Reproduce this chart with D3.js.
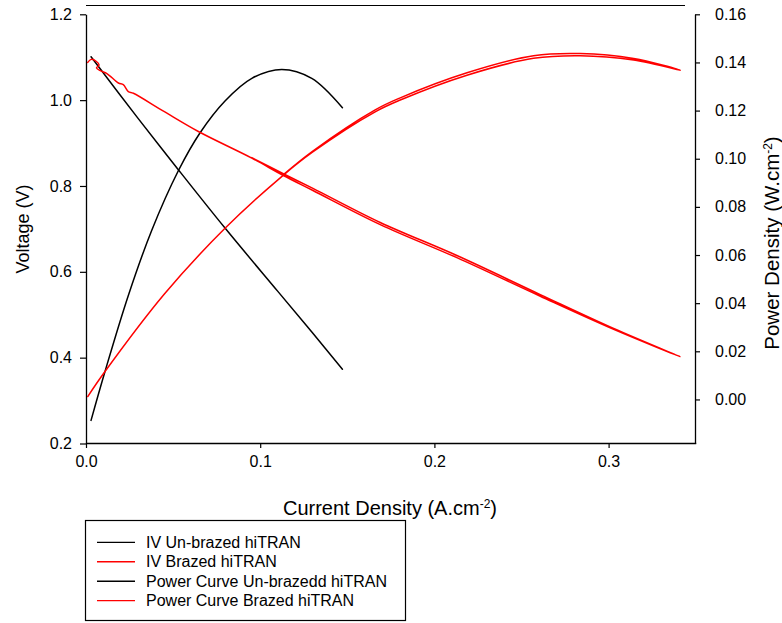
<!DOCTYPE html>
<html>
<head>
<meta charset="utf-8">
<script src="https://cdn.jsdelivr.net/npm/d3@7"></script>
<style>
  html, body { margin: 0; padding: 0; background: #fff; }
  svg { display: block; font-family: Arial, "Liberation Sans", sans-serif; }
</style>
</head>
<body>
<svg id="chart" width="782" height="623"></svg>
<script>
// Polarisation data, current density in A/cm^2
const ivUnbrazedCurrent = [0.0029, 0.030, 0.053, 0.0798, 0.110, 0.130, 0.1472];
const ivUnbrazedVoltage = [1.101, 0.957, 0.838, 0.702, 0.555, 0.458, 0.373];

// Brazed stack: forward sweep followed by the return sweep
const ivBrazedCurrent = [0.001, 0.003, 0.006, 0.0075, 0.006, 0.0085, 0.012, 0.0186, 0.0214, 0.0243, 0.0272,
  0.045, 0.0645, 0.0952, 0.113, 0.130, 0.1689, 0.2129, 0.2608, 0.3029, 0.3412,
  0.3029, 0.2608, 0.2129, 0.1689, 0.130, 0.113, 0.0952];
const ivBrazedVoltage = [1.088, 1.095, 1.090, 1.082, 1.075, 1.068, 1.062, 1.040, 1.036, 1.020, 1.016,
  0.973, 0.927, 0.865, 0.825, 0.790, 0.710, 0.633, 0.543, 0.466, 0.402,
  0.468, 0.547, 0.638, 0.715, 0.795, 0.829, 0.866];

// Power density, W/cm^2
const powerUnbrazedCurrent = [0.0029, 0.0109, 0.0243, 0.0377, 0.053, 0.0655, 0.0798, 0.0952, 0.1124, 0.1296, 0.1472];
const powerUnbrazedDensity = [-0.0087, 0.0116, 0.0432, 0.0702, 0.0950, 0.1108, 0.1240, 0.1334, 0.1371, 0.1334, 0.1212];

const powerBrazedCurrent = [0.001, 0.0109, 0.045, 0.0798, 0.113, 0.130, 0.166, 0.1804, 0.2187, 0.2569, 0.2837, 0.3144, 0.3412,
  0.3144, 0.2837, 0.2569, 0.2187, 0.1804, 0.166, 0.130, 0.113];
const powerBrazedDensity = [0.0012, 0.0116, 0.0438, 0.0711, 0.0930, 0.1027, 0.1195, 0.1244, 0.1347, 0.1417, 0.1428, 0.1410, 0.1368,
  0.1416, 0.1437, 0.1428, 0.1357, 0.1253, 0.1203, 0.1031, 0.0932];

const xTicks = [0.0, 0.1, 0.2, 0.3];
const voltageTicks = [0.2, 0.4, 0.6, 0.8, 1.0, 1.2];
const powerTicks = [0.00, 0.02, 0.04, 0.06, 0.08, 0.10, 0.12, 0.14, 0.16];

const legendLabels = ["IV Un-brazed hiTRAN", "IV Brazed hiTRAN", "Power Curve Un-brazedd hiTRAN", "Power Curve Brazed hiTRAN"];
const legendColors = ["#000000", "#ff0000", "#000000", "#ff0000"];

const svg = d3.select("#chart");
const plot = { left: 86, right: 695, top: 14.3, bottom: 443 };

const x = d3.scaleLinear().domain([0, 0.35]).range([plot.left, plot.right + 0.7]);
const yV = d3.scaleLinear().domain([0.2, 1.2]).range([plot.bottom + 0.5, plot.top]);
const yP = d3.scaleLinear().domain([-0.0183, 0.16]).range([plot.bottom + 0.5, plot.top]);

const zip = (a, b) => a.map((v, i) => [v, b[i]]);

// frame line along the top
svg.append("line")
  .attr("x1", plot.left).attr("x2", 685)
  .attr("y1", 5.5).attr("y2", 5.5)
  .attr("stroke", "#000").attr("stroke-width", 1);

function styleAxis(g) {
  g.selectAll("path.domain").attr("stroke", "#000").attr("stroke-width", 1.3);
  g.selectAll(".tick line").attr("stroke", "#000").attr("stroke-width", 1.2);
  g.selectAll(".tick text").attr("fill", "#000").style("font-size", "16px")
    .style("font-family", "Arial, 'Liberation Sans', sans-serif");
}

const gx = svg.append("g").attr("transform", `translate(0,${plot.bottom})`)
  .call(d3.axisBottom(x).tickValues(xTicks).tickFormat(d3.format(".1f")).tickSizeInner(5).tickSizeOuter(0).tickPadding(8));
styleAxis(gx);

const gyL = svg.append("g").attr("transform", `translate(${plot.left},0)`)
  .call(d3.axisLeft(yV).tickValues(voltageTicks).tickFormat(d3.format(".1f")).tickSizeInner(6).tickSizeOuter(0).tickPadding(8));
styleAxis(gyL);

const gyR = svg.append("g").attr("transform", `translate(${plot.right},0)`)
  .call(d3.axisRight(yP).tickValues(powerTicks).tickFormat(d3.format(".2f")).tickSizeInner(5).tickSizeOuter(0).tickPadding(15));
styleAxis(gyR);

// axis titles
svg.append("text")
  .attr("transform", `translate(23,${229}) rotate(-90)`)
  .attr("text-anchor", "middle").attr("dominant-baseline", "central")
  .style("font-size", "18px").text("Voltage (V)");

const xTitle = svg.append("text")
  .attr("x", 390).attr("y", 515)
  .attr("text-anchor", "middle")
  .style("font-size", "20px");
xTitle.append("tspan").text("Current Density (A.cm");
xTitle.append("tspan").attr("dy", -7).style("font-size", "12px").text("-2");
xTitle.append("tspan").attr("dy", 7).text(")");

const yTitle = svg.append("text")
  .attr("transform", `translate(779,${243}) rotate(-90)`)
  .attr("text-anchor", "middle")
  .style("font-size", "20.5px");
yTitle.append("tspan").text("Power Density (W.cm");
yTitle.append("tspan").attr("dy", -7).style("font-size", "12px").text("-2");
yTitle.append("tspan").attr("dy", 7).text(")");

// curves
const lineV = d3.line().x(d => x(d[0])).y(d => yV(d[1])).curve(d3.curveCatmullRom.alpha(0.5));
const lineP = d3.line().x(d => x(d[0])).y(d => yP(d[1])).curve(d3.curveCatmullRom.alpha(0.5));

const curves = svg.append("g").attr("fill", "none").attr("stroke-linejoin", "round").attr("stroke-linecap", "round");
curves.append("path").datum(zip(ivUnbrazedCurrent, ivUnbrazedVoltage))
  .attr("d", lineV).attr("stroke", "#000").attr("stroke-width", 1.5);
curves.append("path").datum(zip(powerUnbrazedCurrent, powerUnbrazedDensity))
  .attr("d", lineP).attr("stroke", "#000").attr("stroke-width", 1.5);
curves.append("path").datum(zip(ivBrazedCurrent, ivBrazedVoltage))
  .attr("d", lineV).attr("stroke", "#ff0000").attr("stroke-width", 1.5);
curves.append("path").datum(zip(powerBrazedCurrent, powerBrazedDensity))
  .attr("d", lineP).attr("stroke", "#ff0000").attr("stroke-width", 1.5);

// legend
const legend = svg.append("g");
legend.append("rect")
  .attr("x", 85.5).attr("y", 520.5).attr("width", 320).attr("height", 100)
  .attr("fill", "#fff").attr("stroke", "#000").attr("stroke-width", 1.2);
const rowY = d3.scalePoint().domain(legendLabels).range([542.3, 600.7]);
legendLabels.forEach((label, i) => {
  const yy = rowY(label);
  legend.append("line").attr("x1", 97).attr("x2", 135).attr("y1", yy).attr("y2", yy)
    .attr("stroke", legendColors[i]).attr("stroke-width", 1.3);
  legend.append("text").attr("x", 146).attr("y", yy).attr("dominant-baseline", "central")
    .style("font-size", "16px").attr("fill", "#000").text(label);
});
</script>
</body>
</html>
